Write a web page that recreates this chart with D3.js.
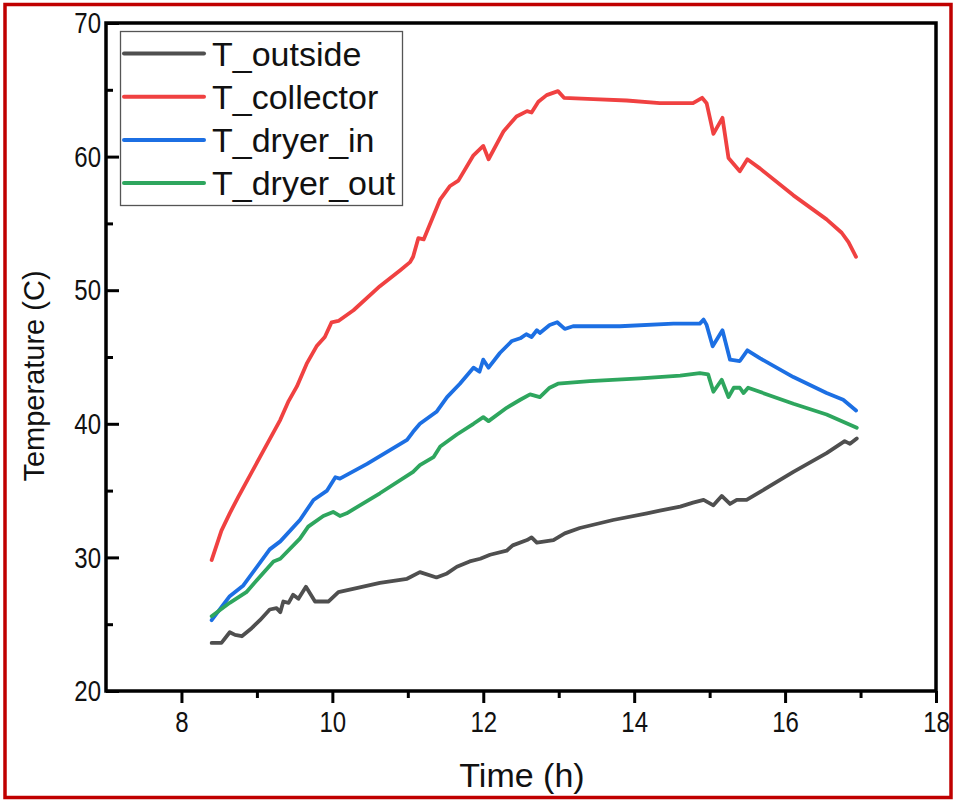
<!DOCTYPE html>
<html>
<head>
<meta charset="utf-8">
<script src="https://cdn.jsdelivr.net/npm/d3@7"></script>
<style>
body{margin:0;background:#fff;}
svg{display:block;font-family:"Liberation Sans", Arial, sans-serif;}
</style>
</head>
<body>
<svg width="955" height="801"></svg>
<script>
// values (time in h, temperature in C)
var outsideTime = [8.40, 8.53, 8.64, 8.71, 8.80, 8.93, 9.04, 9.17, 9.26, 9.31, 9.35, 9.42, 9.48, 9.55, 9.65, 9.77, 9.95, 10.08, 10.32, 10.63, 10.99, 11.16, 11.38, 11.52, 11.65, 11.82, 11.96, 12.09, 12.31, 12.39, 12.58, 12.64, 12.71, 12.93, 13.08, 13.28, 13.72, 14.17, 14.34, 14.61, 14.78, 14.92, 15.05, 15.16, 15.27, 15.36, 15.49, 15.67, 16.11, 16.55, 16.79, 16.86, 16.95];
var outsideTemp = [23.6, 23.6, 24.4, 24.2, 24.1, 24.7, 25.3, 26.1, 26.2, 25.9, 26.7, 26.6, 27.2, 26.9, 27.8, 26.7, 26.7, 27.4, 27.7, 28.1, 28.4, 28.9, 28.5, 28.8, 29.3, 29.7, 29.9, 30.2, 30.5, 30.9, 31.3, 31.5, 31.1, 31.3, 31.8, 32.2, 32.8, 33.3, 33.5, 33.8, 34.1, 34.3, 33.9, 34.6, 34.0, 34.3, 34.3, 34.9, 36.4, 37.8, 38.7, 38.5, 38.9];

var collectorTime = [8.40, 8.53, 8.64, 8.75, 9.04, 9.31, 9.42, 9.53, 9.66, 9.79, 9.90, 9.99, 10.08, 10.28, 10.63, 10.90, 11.03, 11.07, 11.14, 11.21, 11.43, 11.56, 11.67, 11.87, 12.00, 12.07, 12.27, 12.44, 12.58, 12.64, 12.73, 12.84, 12.99, 13.07, 13.46, 13.90, 14.34, 14.78, 14.90, 14.96, 15.05, 15.17, 15.25, 15.40, 15.50, 15.67, 16.11, 16.55, 16.75, 16.84, 16.94];
var collectorTemp = [29.8, 32.0, 33.3, 34.5, 37.5, 40.3, 41.7, 42.8, 44.5, 45.8, 46.5, 47.6, 47.7, 48.5, 50.3, 51.5, 52.1, 52.5, 53.9, 53.8, 56.8, 57.8, 58.2, 60.1, 60.8, 59.8, 61.9, 63.0, 63.4, 63.3, 64.1, 64.6, 64.9, 64.4, 64.3, 64.2, 64.0, 64.0, 64.4, 64.0, 61.7, 62.9, 59.9, 58.9, 59.8, 59.1, 57.1, 55.3, 54.3, 53.6, 52.5];

var dryerInTime = [8.40, 8.64, 8.82, 9.17, 9.31, 9.57, 9.75, 9.93, 10.04, 10.10, 10.46, 10.99, 11.07, 11.16, 11.38, 11.52, 11.69, 11.87, 11.95, 12.00, 12.07, 12.22, 12.38, 12.49, 12.57, 12.64, 12.71, 12.75, 12.88, 12.98, 13.08, 13.19, 13.81, 14.52, 14.87, 14.92, 14.96, 15.04, 15.17, 15.27, 15.40, 15.50, 15.67, 16.11, 16.55, 16.77, 16.94];
var dryerInTemp = [25.3, 27.1, 27.9, 30.6, 31.2, 32.8, 34.3, 35.0, 36.0, 35.9, 37.0, 38.8, 39.4, 40.0, 40.9, 42.0, 43.0, 44.2, 43.9, 44.8, 44.2, 45.3, 46.2, 46.4, 46.7, 46.5, 47.0, 46.8, 47.4, 47.6, 47.1, 47.3, 47.3, 47.5, 47.5, 47.8, 47.4, 45.8, 47.0, 44.8, 44.7, 45.5, 44.9, 43.5, 42.3, 41.8, 41.0];

var dryerOutTime = [8.40, 8.64, 8.86, 9.22, 9.31, 9.57, 9.68, 9.88, 10.01, 10.10, 10.19, 10.63, 11.07, 11.16, 11.34, 11.43, 11.65, 11.87, 12.00, 12.07, 12.31, 12.49, 12.62, 12.75, 12.88, 12.99, 13.41, 14.08, 14.61, 14.87, 14.98, 15.05, 15.16, 15.25, 15.32, 15.40, 15.45, 15.51, 16.11, 16.55, 16.95];
var dryerOutTemp = [25.6, 26.6, 27.4, 29.7, 29.9, 31.4, 32.3, 33.1, 33.4, 33.1, 33.3, 34.8, 36.4, 36.9, 37.5, 38.3, 39.2, 40.0, 40.5, 40.2, 41.2, 41.8, 42.2, 42.0, 42.7, 43.0, 43.2, 43.4, 43.6, 43.8, 43.7, 42.4, 43.3, 42.0, 42.7, 42.7, 42.3, 42.7, 41.5, 40.7, 39.7];

var seriesNames = ["T_outside", "T_collector", "T_dryer_in", "T_dryer_out"];
var seriesColors = ["#4f4f4f", "#f04141", "#1c6fe3", "#2ea65e"];

var xTicks = [8, 10, 12, 14, 16, 18];
var xMinor = [9, 11, 13, 15, 17];
var yTicks = [20, 30, 40, 50, 60, 70];
var yMinor = [25, 35, 45, 55, 65];

var svg = d3.select("svg");

var x = d3.scaleLinear().domain([7, 18]).range([106, 936]);
var y = d3.scaleLinear().domain([20, 70]).range([691, 23]);

var squeeze = 0.8;

// x axis (ticks outward)
var gx = svg.append("g")
	.attr("transform", "translate(0,691)")
	.call(d3.axisBottom(x).tickValues(xTicks).tickSize(12).tickPadding(8).tickFormat(d3.format("d")));
svg.append("g")
	.attr("transform", "translate(0,691)")
	.call(d3.axisBottom(x).tickValues(xMinor).tickSize(7).tickFormat(""))
	.select(".domain").remove();

// y axis (ticks inward)
var gy = svg.append("g")
	.attr("transform", "translate(106,0)")
	.call(d3.axisLeft(y).tickValues(yTicks).tickSize(-13).tickPadding(6).tickFormat(d3.format("d")));
svg.append("g")
	.attr("transform", "translate(106,0)")
	.call(d3.axisLeft(y).tickValues(yMinor).tickSize(-7).tickFormat(""))
	.select(".domain").remove();

gx.select(".domain").remove();
gy.select(".domain").remove();

svg.selectAll(".tick line")
	.attr("stroke", "#000")
	.attr("stroke-width", 3);

gx.selectAll("text")
	.attr("font-size", 30)
	.attr("fill", "#111")
	.attr("font-family", "Liberation Sans")
	.attr("transform", "scale(" + squeeze + ",1)");

gy.selectAll("text")
	.attr("font-size", 30)
	.attr("fill", "#111")
	.attr("font-family", "Liberation Sans")
	.attr("x", -5 / squeeze)
	.attr("transform", "scale(" + squeeze + ",1)");

// data lines
var line = d3.line()
	.x(function(d){ return x(d[0]); })
	.y(function(d){ return y(d[1]); });

var seriesData = [
	d3.zip(outsideTime, outsideTemp),
	d3.zip(collectorTime, collectorTemp),
	d3.zip(dryerInTime, dryerInTemp),
	d3.zip(dryerOutTime, dryerOutTemp)
];

svg.append("g")
	.selectAll("path")
	.data(seriesData)
	.enter()
	.append("path")
	.attr("d", line)
	.attr("fill", "none")
	.attr("stroke", function(d, i){ return seriesColors[i]; })
	.attr("stroke-width", 3.8)
	.attr("stroke-linejoin", "round")
	.attr("stroke-linecap", "round");

// frame
svg.append("rect")
	.attr("x", 106)
	.attr("y", 23)
	.attr("width", 830)
	.attr("height", 668)
	.attr("fill", "none")
	.attr("stroke", "#000")
	.attr("stroke-width", 3.5);

// legend
svg.append("rect")
	.attr("x", 120.5)
	.attr("y", 31.5)
	.attr("width", 282)
	.attr("height", 174)
	.attr("fill", "#fff")
	.attr("stroke", "#555")
	.attr("stroke-width", 1.3);

var legend = svg.append("g")
	.selectAll("g")
	.data(seriesNames)
	.enter()
	.append("g")
	.attr("transform", function(d, i){ return "translate(0," + (53.5 + i * 43.2) + ")"; });

legend.append("line")
	.attr("x1", 124)
	.attr("x2", 204)
	.attr("stroke", function(d, i){ return seriesColors[i]; })
	.attr("stroke-width", 4)
	.attr("stroke-linecap", "round");

legend.append("text")
	.attr("x", 212)
	.attr("y", 12)
	.attr("font-size", 34)
	.attr("fill", "#111")
	.text(function(d){ return d; });

// axis titles
svg.append("text")
	.attr("transform", "translate(44,376) rotate(-90)")
	.attr("text-anchor", "middle")
	.attr("font-size", 29)
	.attr("fill", "#111")
	.text("Temperature (C)");

svg.append("text")
	.attr("x", 522)
	.attr("y", 787)
	.attr("text-anchor", "middle")
	.attr("font-size", 34)
	.attr("fill", "#111")
	.text("Time (h)");

// outer red border
svg.append("rect")
	.attr("x", 5)
	.attr("y", 4.5)
	.attr("width", 946)
	.attr("height", 793)
	.attr("fill", "none")
	.attr("stroke", "#c00000")
	.attr("stroke-width", 3.5);
</script>
</body>
</html>
